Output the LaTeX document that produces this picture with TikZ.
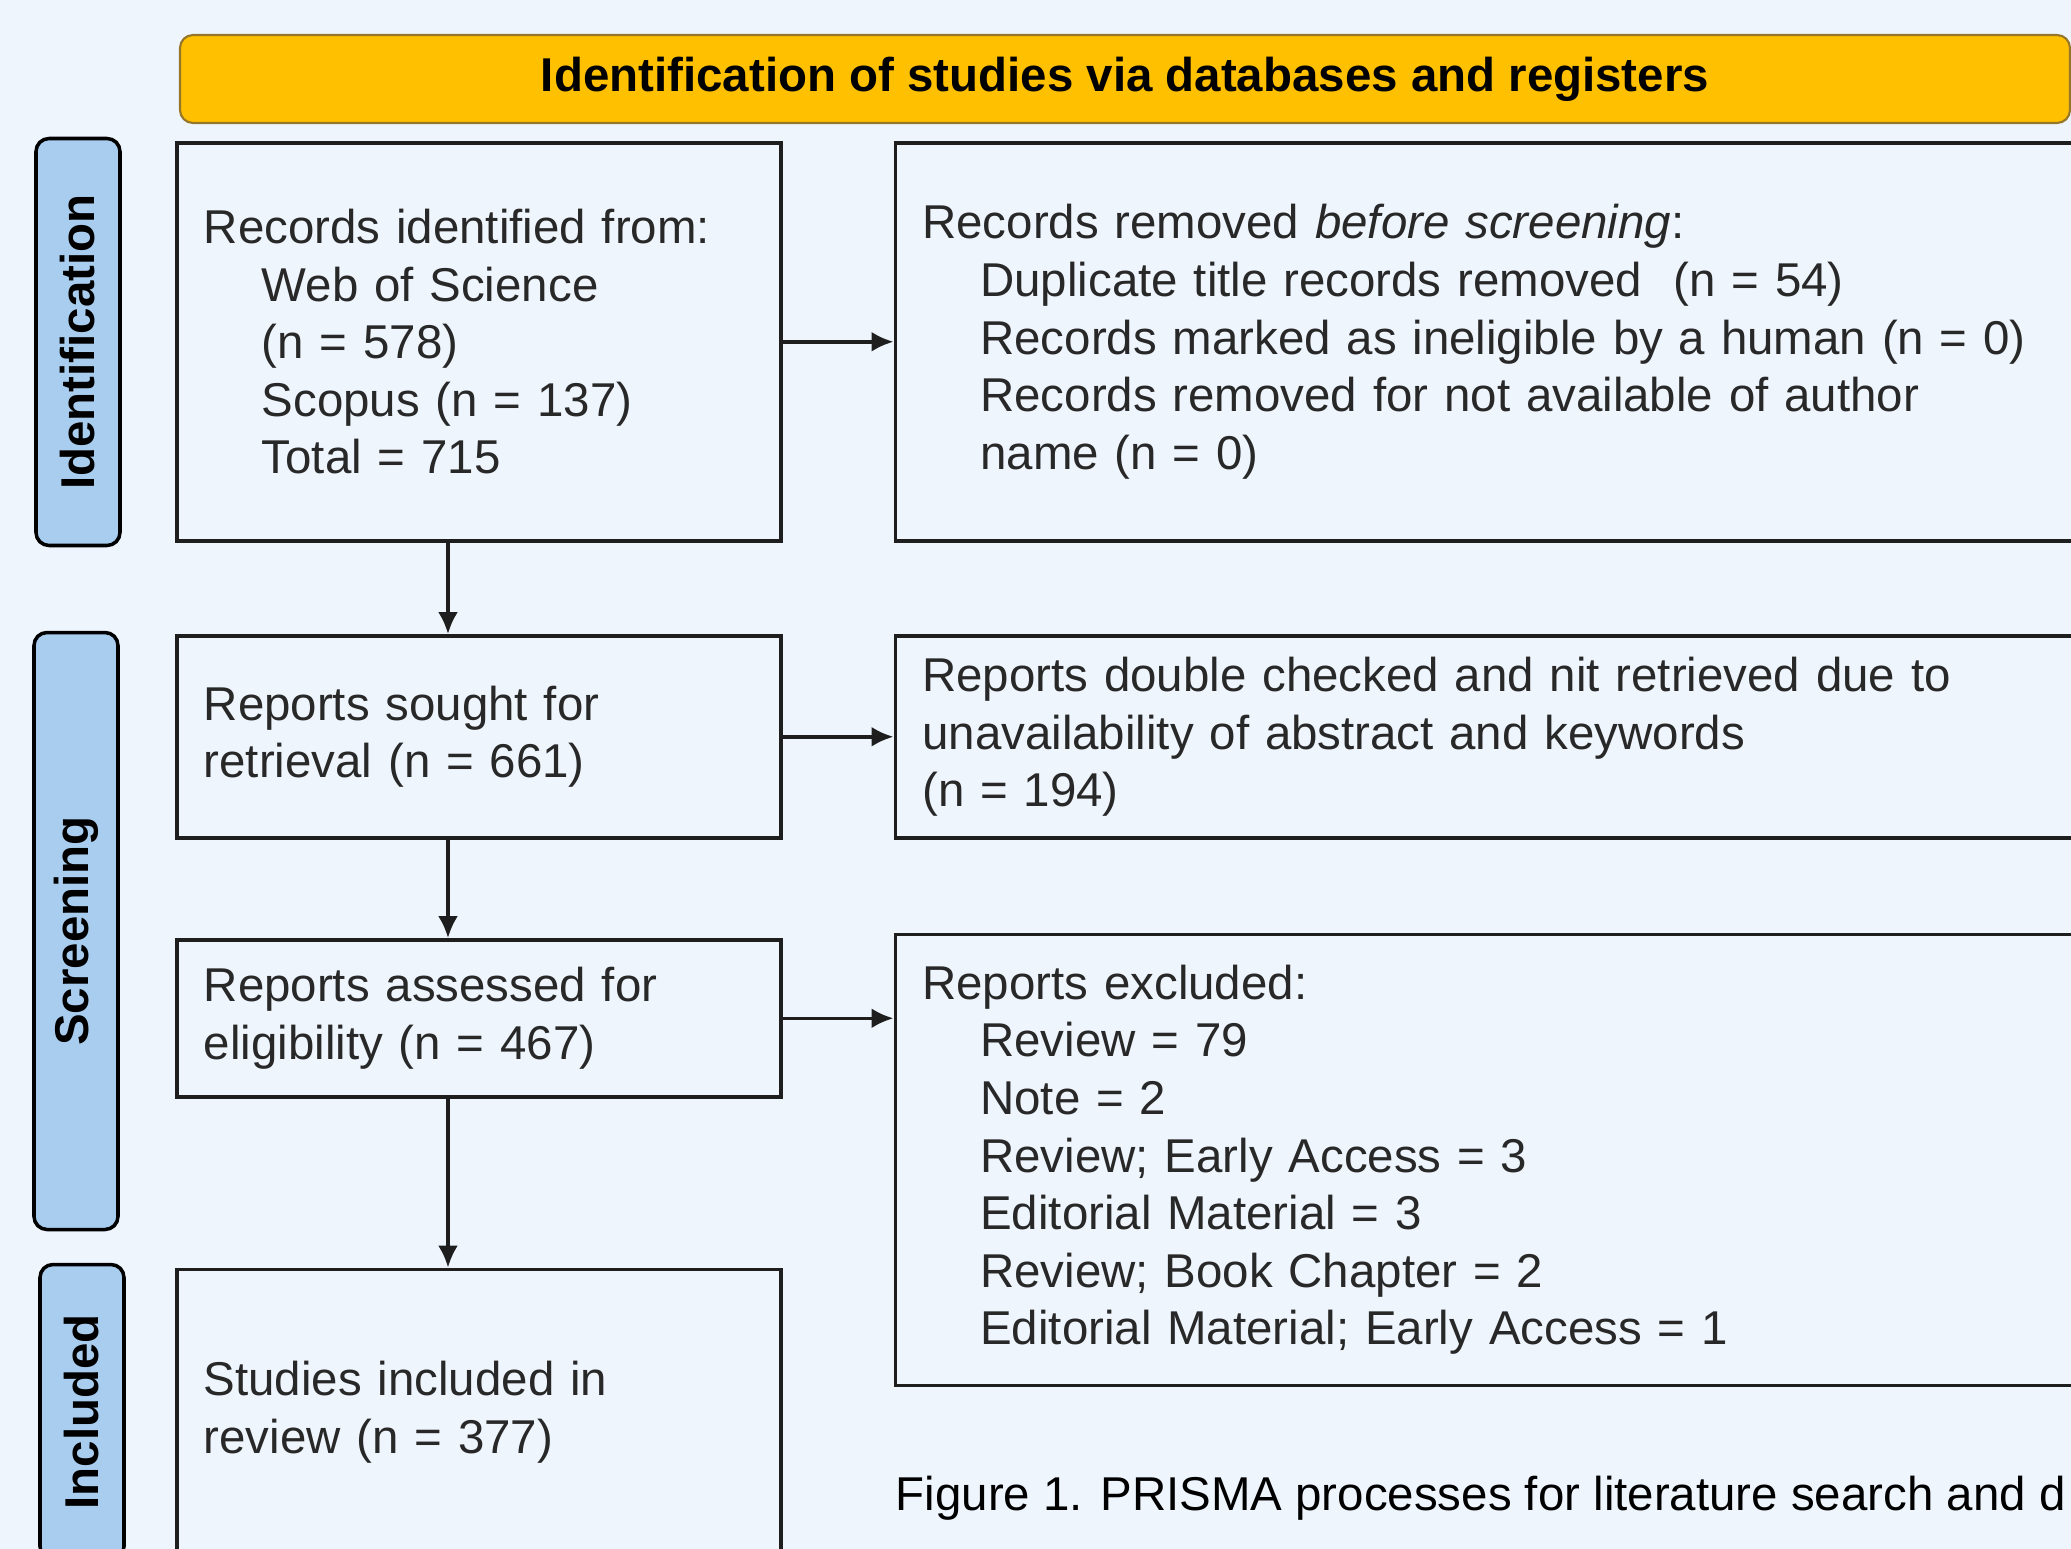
\documentclass[tikz,border=0pt]{standalone}
\usepackage{fontspec}
\setmainfont{Liberation Sans}
\usetikzlibrary{arrows.meta, positioning}

\definecolor{pagebg}{RGB}{238,245,253}
\definecolor{phasefill}{RGB}{169,205,239}
\definecolor{headfill}{RGB}{255,192,0}
\definecolor{headline}{RGB}{150,118,40}
\definecolor{boxline}{RGB}{30,30,30}
\definecolor{boxtext}{RGB}{40,40,40}

\newcommand{\indnt}{\hspace*{5.8mm}}

\begin{document}
\begin{tikzpicture}[x=0.1mm,y=-0.1mm,font=\fontsize{13.5pt}{16.4pt}\selectfont,>={Latex[length=2.2mm,width=2mm]}]

	\tikzset{box/.style={draw=boxline, line width=1pt, text=boxtext,
							align=left, text width=55mm,
							inner xsep=2.7mm, inner ysep=0pt},
			 widebox/.style={box, text width=118.2mm},
			 phase/.style={draw=black, line width=1pt, fill=phasefill,
							rounded corners=1.3mm, rotate=90,
							minimum height=8.4mm, inner sep=0pt,
							font=\fontsize{13.5pt}{16.4pt}\selectfont\bfseries},
			 banner/.style={draw=headline, line width=0.6pt, fill=headfill,
							rounded corners=1.3mm, inner sep=0pt,
							minimum width=189mm, minimum height=8.8mm,
							font=\fontsize{13.5pt}{16.4pt}\selectfont\bfseries}}

	\useasboundingbox (0,0) rectangle (2071,1549);
	\clip (0,0) rectangle (2071,1549);
	\fill[pagebg] (0,0) rectangle (2071,1549);

	\node[banner] (head) at (1125,79) {Identification of studies via databases and registers};

	\node[phase, minimum width=40.7mm] (idph) at (78,342) {Identification};
	\node[phase, minimum width=59.7mm] (scrph) at (76,931) {Screening};
	\node[phase, minimum width=29.5mm] (incph) at (82,1412) {Included};

	\node[box, minimum height=39.8mm, anchor=north west] (rec) at (175,141)
		{Records identified from:\\
		 \indnt Web of Science\\
		 \indnt (n = 578)\\
		 \indnt Scopus (n = 137)\\
		 \indnt Total = 715};
	\node[widebox, minimum height=39.8mm, right=11.1mm of rec] (removed)
		{Records removed \textit{before screening}:\\
		 \indnt Duplicate title records removed~ (n = 54)\\
		 \indnt Records marked as ineligible by a human (n = 0)\\
		 \indnt Records removed for not available of author\\
		 \indnt name (n = 0)};
	\node[box, minimum height=20.2mm, below=9.15mm of rec] (sought)
		{Reports sought for\\retrieval (n = 661)};
	\node[widebox, minimum height=20.2mm, right=11.1mm of sought] (notret)
		{Reports double checked and nit retrieved due to\\
		 unavailability of abstract and keywords\\
		 (n = 194)};
	\node[box, minimum height=15.7mm, below=9.85mm of sought] (assessed)
		{Reports assessed for\\eligibility (n = 467)};
	\node[widebox, minimum height=45.1mm, below=9.3mm of notret] (excluded)
		{Reports excluded:\\
		 \indnt Review = 79\\
		 \indnt Note = 2\\
		 \indnt Review; Early Access = 3\\
		 \indnt Editorial Material = 3\\
		 \indnt Review; Book Chapter = 2\\
		 \indnt Editorial Material; Early Access = 1};
	\node[box, minimum height=28.6mm, below=16.9mm of assessed] (included)
		{Studies included in\\review (n = 377)};

	\node[anchor=base west, inner sep=0pt, text=black] (caption) at (895,1510)
		{Figure 1. PRISMA processes for literature search and d};

	\coordinate (spine) at (448,0);

	\path[->, line width=1pt, every edge/.append style={draw=boxline}]
	(rec) edge (removed)
	(rec.south -| spine) edge (sought.north -| spine)
	(sought) edge (notret)
	(sought.south -| spine) edge (assessed.north -| spine)
	(assessed) edge (assessed -| excluded.west)
	(assessed.south -| spine) edge (included.north -| spine);
\end{tikzpicture}
\end{document}
